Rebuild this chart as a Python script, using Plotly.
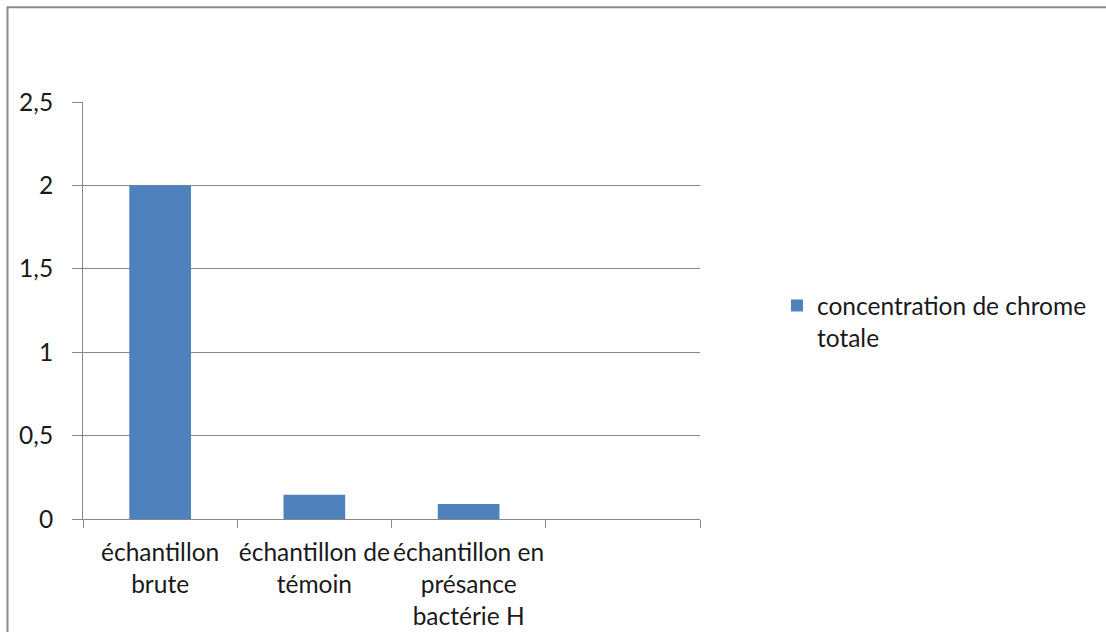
import plotly.graph_objects as go

# Sample categories (the fourth slot is an empty category on the axis)
categories = ["brute", "témoin", "présance H", "vide"]
tick_labels = [
    "échantillon<br>brute",
    "échantillon de<br>témoin",
    "échantillon en<br>présance<br>bactérie H",
    "",
]
chrome_total = [2.0, 0.145, 0.09, None]
series_name = "concentration de chrome<br>totale"

W, H = 1106, 632
PLOT_L, PLOT_R, PLOT_T, PLOT_B = 83, 700, 101.5, 519.5
FONT = "Lato"
FSIZE = 24.5
GRID = "#878787"
TEXT = "#1a1a1a"

fig = go.Figure(
    go.Bar(
        x=categories,
        y=chrome_total,
        name=series_name,
        marker=dict(color="#4F81BD", line=dict(width=0)),
        showlegend=True,
    )
)

def px_to_paper_x(px):
    return (px - PLOT_L) / (PLOT_R - PLOT_L)

def px_to_paper_y(py):
    return (PLOT_B - py) / (PLOT_B - PLOT_T)

# Chart-area frame (top and left edges visible)
fig.add_shape(
    type="rect", xref="paper", yref="paper",
    x0=px_to_paper_x(7.5), x1=px_to_paper_x(W + 20),
    y0=px_to_paper_y(H + 20), y1=px_to_paper_y(6.5),
    line=dict(color="#8a8a8a", width=2), fillcolor="rgba(0,0,0,0)",
    layer="below",
)

fig.update_layout(
    width=W, height=H,
    margin=dict(l=PLOT_L, r=W - PLOT_R, t=PLOT_T, b=H - PLOT_B, autoexpand=False),
    paper_bgcolor="white", plot_bgcolor="white",
    font=dict(family=FONT, size=FSIZE, color=TEXT),
    separators=", ",
    bargap=0.6,
    showlegend=True,
    legend=dict(
        x=px_to_paper_x(777), xanchor="left",
        y=px_to_paper_y(283), yanchor="top",
        valign="top", itemwidth=30,
        font=dict(family=FONT, size=FSIZE, color=TEXT),
        bgcolor="rgba(0,0,0,0)", borderwidth=0,
    ),
    xaxis=dict(
        type="category",
        categoryorder="array", categoryarray=categories,
        tickvals=categories, ticktext=tick_labels,
        tickangle=0,
        tickson="boundaries", ticks="outside", ticklen=8,
        tickcolor=GRID, tickwidth=1,
        showline=True, linecolor=GRID, linewidth=1,
        showgrid=False, zeroline=False,
        ticklabelstandoff=12,
        tickfont=dict(family=FONT, size=FSIZE, color=TEXT),
        range=[-0.5, 3.5],
    ),
    yaxis=dict(
        range=[0, 2.5], dtick=0.5, tick0=0,
        ticks="outside", ticklen=10, tickcolor=GRID, tickwidth=1,
        showline=True, linecolor=GRID, linewidth=1,
        showgrid=True, gridcolor=GRID, gridwidth=1,
        zeroline=False,
        ticklabelstandoff=14,
        tickfont=dict(family=FONT, size=FSIZE, color=TEXT),
    ),
)

fig.write_html("out.html")
